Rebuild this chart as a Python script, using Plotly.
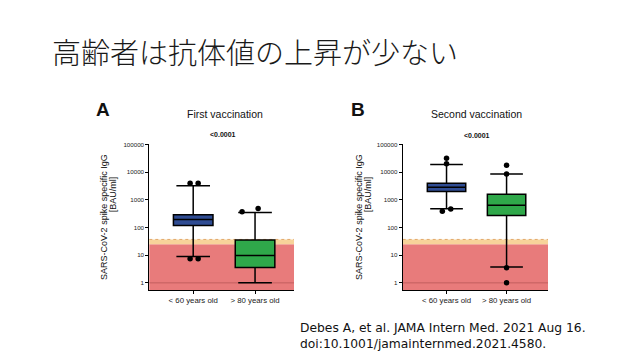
import plotly.graph_objects as go

# ---------------- data ----------------
groups = ["< 60 years old", "> 80 years old"]
group_pos = [0, 1]
tick_vals = [1, 10, 100, 1000, 10000, 100000]
tick_text = ["1", "10", "100", "1000", "10000", "100000"]

first_q1 = [118, 3.6]
first_median = [195, 9.8]
first_q3 = [290, 35]
first_low = [9, 1]
first_high = [3200, 345]
first_out_group = [0, 0, 0, 0, 1, 1]
first_out_vals = [4000, 4000, 7.4, 7.4, 370, 480]

second_q1 = [2000, 270]
second_median = [2850, 630]
second_q3 = [4000, 1600]
second_low = [475, 3.7]
second_high = [18700, 8500]
second_out_group = [0, 0, 0, 0, 1, 1, 1, 1]
second_out_vals = [32000, 20000, 385, 465, 17700, 8500, 3.5, 1]

neg_limit = 25      # BAU/ml, red zone upper bound
border_limit = 37   # orange band upper bound
p_value = "<0.0001"

# ---------------- style ----------------
first_jitter = [-0.05, 0.08, -0.05, 0.08, -0.21, 0.05]
second_jitter = [0, 0, -0.07, 0.07, 0, 0, 0, 0]
box_colors = ["#2F4C93", "#2FA84A"]
y_min_log = -0.26
y_max_log = 5.0
# the page body has an 8px default margin: size the figure to fit inside it
OFF = 8
W, H = 640 - 2 * OFF, 360 - 2 * OFF

def px(x):
    return (x - OFF) / W

def py(y):
    return 1 - (y - OFF) / H

fig = go.Figure()

panels = [
    dict(xa="x", ya="y", q1=first_q1, med=first_median, q3=first_q3, lo=first_low, hi=first_high,
         og=first_out_group, ov=first_out_vals, jit=first_jitter, xdom=(149.3, 294), xr=[-0.71, 1.63]),
    dict(xa="x2", ya="y2", q1=second_q1, med=second_median, q3=second_q3, lo=second_low, hi=second_high,
         og=second_out_group, ov=second_out_vals, jit=second_jitter, xdom=(402.7, 548), xr=[-0.73, 1.69]),
]

for p in panels:
    for i in range(len(groups)):
        fig.add_trace(go.Box(
            x=[group_pos[i]], q1=[p["q1"][i]], median=[p["med"][i]], q3=[p["q3"][i]],
            lowerfence=[p["lo"][i]], upperfence=[p["hi"][i]],
            width=0.64, whiskerwidth=0.85, boxpoints=False,
            fillcolor=box_colors[i], line=dict(color="black", width=1.5),
            xaxis=p["xa"], yaxis=p["ya"], showlegend=False, hoverinfo="skip",
        ))
    fig.add_trace(go.Scatter(
        x=[group_pos[g] + j for g, j in zip(p["og"], p["jit"])], y=p["ov"],
        mode="markers", marker=dict(color="black", size=5.5),
        xaxis=p["xa"], yaxis=p["ya"], showlegend=False, hoverinfo="skip",
    ))
    ylow = 10 ** y_min_log
    fig.add_shape(type="rect", xref=p["xa"] + " domain", yref=p["ya"], x0=0, x1=1,
                  y0=ylow * 0.5, y1=neg_limit, fillcolor="#E87B7B", line_width=0, layer="below")
    fig.add_shape(type="rect", xref=p["xa"] + " domain", yref=p["ya"], x0=0, x1=1,
                  y0=neg_limit, y1=border_limit, fillcolor="#F7D39A", line_width=0, layer="below")
    fig.add_shape(type="line", xref=p["xa"] + " domain", yref=p["ya"], x0=0, x1=1,
                  y0=border_limit, y1=border_limit, line=dict(color="#E2A86A", width=1, dash="dot"), layer="below")
    fig.add_shape(type="line", xref=p["xa"] + " domain", yref=p["ya"], x0=0, x1=1,
                  y0=1, y1=1, line=dict(color="rgba(150,60,60,0.45)", width=1), layer="below")

font = "Liberation Sans, Arial, sans-serif"
ydom = [py(289.3), py(142)]
axis_common = dict(showgrid=False, zeroline=False, showline=True, linecolor="black", linewidth=1,
                   ticks="outside", ticklen=3, tickcolor="black", tickwidth=1)
layout = dict(width=W, height=H, margin=dict(l=0, r=0, t=0, b=0),
              paper_bgcolor="white", plot_bgcolor="white", showlegend=False)
for k, p in enumerate(panels):
    sfx = "" if k == 0 else "2"
    layout["xaxis" + sfx] = dict(domain=[px(p["xdom"][0]), px(p["xdom"][1])], range=p["xr"],
                                 tickvals=group_pos, ticktext=groups, anchor="y" + sfx,
                                 tickfont=dict(family=font, size=7.8, color="#222"), **axis_common)
    layout["yaxis" + sfx] = dict(domain=ydom, type="log", range=[y_min_log, y_max_log],
                                 tickvals=tick_vals, ticktext=tick_text, anchor="x" + sfx,
                                 tickfont=dict(family=font, size=6.2, color="#222"), **axis_common)
fig.update_layout(**layout)

def ann(text, x, y, size, bold=False, angle=0, xanchor="center", fam=font, color="#111", weight=None):
    if bold:
        text = "<b>" + text + "</b>"
    f = dict(family=fam, size=size, color=color)
    if weight:
        f["weight"] = weight
    fig.add_annotation(text=text, x=px(x), y=py(y), xref="paper", yref="paper",
                       xanchor=xanchor, yanchor="middle", showarrow=False, textangle=angle,
                       align="left", font=f)

ann("高齢者は抗体値の上昇が少ない", 50, 47, 29, xanchor="left",
    fam="Noto Sans CJK JP", color="#1a1a1a", weight=300)
ann("A", 103, 106.5, 19, bold=True)
ann("B", 358, 106.5, 19, bold=True)
ann("First vaccination", 225, 110.7, 10.5)
ann("Second vaccination", 476.7, 110.7, 10.5)
ann(p_value, 223, 132, 7, bold=True)
ann(p_value, 476.7, 133, 7, bold=True)
for x1, x2 in [(103.3, 113.3), (358.3, 368.3)]:
    ann("SARS-CoV-2 spike specific IgG", x1, 215, 9, angle=-90)
    ann("[BAU/ml]", x2, 192, 9, angle=-90)
ann("Debes A, et al. JAMA Intern Med. 2021 Aug 16.<br>doi:10.1001/jamainternmed.2021.4580.",
    298, 336, 12.3, xanchor="left", fam="DejaVu Sans, sans-serif", color="#111")

fig.write_html("out.html")
